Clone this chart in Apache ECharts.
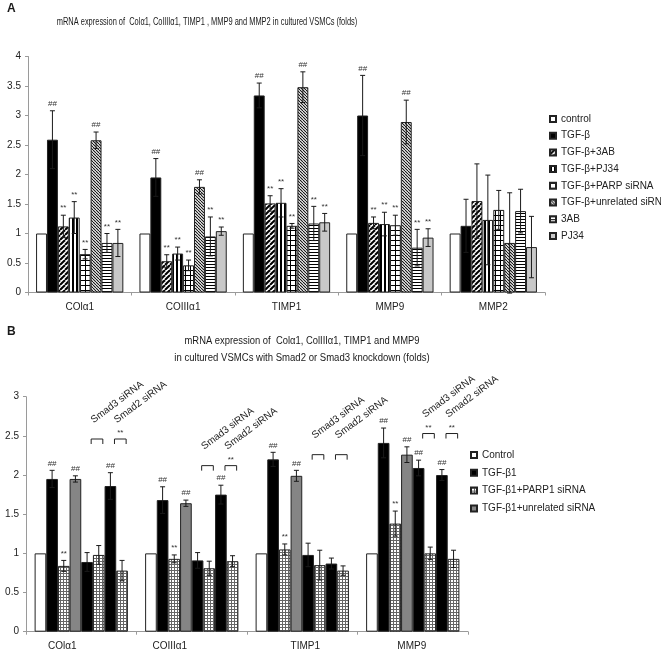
<!DOCTYPE html>
<html><head><meta charset="utf-8">
<script src="https://cdn.jsdelivr.net/npm/echarts@6/dist/echarts.min.js"></script>
<style>html,body{margin:0;padding:0;background:#fff}#c{width:661px;height:653px}</style>
</head><body><div id="c"></div>
<script>
// ---------- Panel A data ----------
const catsA = ['COlα1', 'COIIIα1', 'TIMP1', 'MMP9', 'MMP2'];
const namesA = ['control', 'TGF-β', 'TGF-β+3AB', 'TGF-β+PJ34', 'TGF-β+PARP siRNA', 'TGF-β+unrelated siRNA', '3AB', 'PJ34'];
const valsA = [
  [1, 1, 1, 1, 1],
  [2.59, 1.95, 3.34, 3.00, 1.13],
  [1.12, 0.53, 1.51, 1.18, 1.55],
  [1.27, 0.66, 1.52, 1.16, 1.23],
  [0.65, 0.46, 1.13, 1.14, 1.40],
  [2.58, 1.79, 3.48, 2.89, 0.84],
  [0.84, 0.95, 1.17, 0.76, 1.38],
  [0.84, 1.04, 1.19, 0.93, 0.77]
];
const errA = [
  [0, 0, 0, 0, 0],
  [0.49, 0.32, 0.21, 0.68, 0.45],
  [0.19, 0.11, 0.13, 0.10, 0.63],
  [0.27, 0.11, 0.24, 0.20, 0.76],
  [0.08, 0.09, 0.04, 0.17, 0.33],
  [0.14, 0.12, 0.26, 0.37, 0.85],
  [0.16, 0.33, 0.29, 0.31, 0.37],
  [0.23, 0.07, 0.15, 0.15, 0.52]
];
const marksA = [
  ['', '', '', '', ''],
  ['##', '##', '##', '##', ''],
  ['**', '**', '**', '**', ''],
  ['**', '**', '**', '**', ''],
  ['**', '**', '**', '**', ''],
  ['##', '##', '##', '##', ''],
  ['**', '**', '**', '**', ''],
  ['**', '**', '**', '**', '']
];
const titleA = 'mRNA expression of  Colα1, ColIIIα1, TIMP1 , MMP9 and MMP2 in cultured VSMCs (folds)';

// ---------- Panel B data ----------
const catsB = ['COlα1', 'COIIIα1', 'TIMP1', 'MMP9'];
const namesB = ['Control', 'TGF-β1', 'TGF-β1+PARP1 siRNA', 'TGF-β1+unrelated siRNA',
  'Smad3 siRNA+TGF-β1', 'Smad3 siRNA+TGF-β1+PARP1 siRNA', 'Smad2 siRNA+TGF-β1', 'Smad2 siRNA+TGF-β1+PARP1 siRNA'];
const legendB = ['Control', 'TGF-β1', 'TGF-β1+PARP1 siRNA', 'TGF-β1+unrelated siRNA'];
const valsB = [
  [1, 1, 1, 1],
  [1.95, 1.68, 2.20, 2.41],
  [0.84, 0.93, 1.05, 1.38],
  [1.95, 1.64, 1.99, 2.26],
  [0.89, 0.91, 0.98, 2.09],
  [0.98, 0.81, 0.85, 1.00],
  [1.86, 1.75, 0.87, 2.00],
  [0.78, 0.90, 0.78, 0.93]
];
const errB = [
  [0, 0, 0, 0],
  [0.11, 0.17, 0.09, 0.19],
  [0.07, 0.05, 0.07, 0.16],
  [0.04, 0.04, 0.07, 0.10],
  [0.12, 0.10, 0.15, 0.10],
  [0.12, 0.09, 0.19, 0.08],
  [0.17, 0.12, 0.07, 0.07],
  [0.13, 0.07, 0.06, 0.11]
];
const marksB = [
  ['', '', '', ''],
  ['##', '##', '##', '##'],
  ['**', '**', '**', '**'],
  ['##', '##', '##', '##'],
  ['', '', '', '##'],
  ['', '', '', ''],
  ['##', '##', '', '##'],
  ['', '', '', '']
];
const bracketB = [2.46, 2.12, 2.26, 2.53];
const bracketStarsB = [[false, true], [false, true], [false, false], [true, true]];
const bracketLabels = ['Smad3 siRNA', 'Smad2 siRNA'];
const titleB1 = 'mRNA expression of  Colα1, ColIIIα1, TIMP1 and MMP9';
const titleB2 = 'in cultured VSMCs with Smad2 or Smad3 knockdown (folds)';

// ---------- styling ----------
const FONT = 'Liberation Sans, Arial, sans-serif';
const GAP = 0.156;
const labelShiftB = [38, 44, -6, 2]; // right padding (px) to nudge panel-B category labels like the reference

function pat(w, h, draw) {
  const c = document.createElement('canvas');
  c.width = w; c.height = h;
  const g = c.getContext('2d');
  g.fillStyle = '#fff'; g.fillRect(0, 0, w, h);
  draw(g, w, h);
  return { image: c, repeat: 'repeat' };
}
const diagFwd = pat(5, 5, (g, w, h) => {
  g.strokeStyle = '#000'; g.lineWidth = 2;
  for (const o of [-w, 0, w]) { g.beginPath(); g.moveTo(o, h); g.lineTo(o + w, 0); g.stroke(); }
});
const vStripe = pat(4, 1, (g) => { g.fillStyle = '#000'; g.fillRect(0, 0, 2, 1); });
const gridPat = pat(5, 5, (g) => { g.fillStyle = '#000'; g.fillRect(0, 0, 5, 1); g.fillRect(0, 0, 1, 5); });
const diagBack = pat(3, 3, (g, w, h) => {
  g.strokeStyle = '#111'; g.lineWidth = 1.1;
  for (const o of [-w, 0, w]) { g.beginPath(); g.moveTo(o, 0); g.lineTo(o + w, h); g.stroke(); }
});
const hStripe = pat(1, 3, (g) => { g.fillStyle = '#000'; g.fillRect(0, 0, 1, 1); });
const checker = pat(3, 3, (g) => { g.fillStyle = '#666'; g.fillRect(0, 0, 3, 1); g.fillRect(0, 0, 1, 3); });

const colorsA = ['#ffffff', '#000000', diagFwd, vStripe, gridPat, diagBack, hStripe, '#c8c8c8'];
const colorsB = ['#ffffff', '#000000', checker, '#858585', '#000000', checker, '#000000', checker];

function errRender(vals, errs, marks, n) {
  return function (params, api) {
    const cat = api.value(0), v = api.value(1), s = api.value(2);
    const e = errs[s][cat];
    const band = api.size([1, 0])[0];
    const gw = band * (1 - GAP);
    const bw = gw / n;
    const cx = api.coord([cat, v])[0] - gw / 2 + (s + 0.5) * bw;
    const top = api.coord([cat, v + e])[1];
    const bot = api.coord([cat, v - e])[1];
    const ch = [];
    const ls = { stroke: '#1a1a1a', lineWidth: 1 };
    if (e > 0) {
      ch.push({ type: 'line', shape: { x1: cx, y1: top, x2: cx, y2: bot }, style: ls });
      ch.push({ type: 'line', shape: { x1: cx - 2.5, y1: top, x2: cx + 2.5, y2: top }, style: ls });
      ch.push({ type: 'line', shape: { x1: cx - 2.5, y1: bot, x2: cx + 2.5, y2: bot }, style: ls });
    }
    const m = marks[s][cat];
    if (m) {
      ch.push({ type: 'text', x: cx, y: top - 3, style: { text: m, textAlign: 'center', textVerticalAlign: 'bottom', fontSize: 8, fontFamily: FONT, fill: '#333' } });
    }
    return { type: 'group', children: ch };
  };
}

function bracketRender(params, api) {
  const cat = api.value(0), y = api.value(1);
  const band = api.size([1, 0])[0];
  const gw = band * (1 - GAP);
  const bw = gw / 8;
  const c0 = api.coord([cat, y]);
  const ch = [];
  [5, 7].forEach((idx, k) => {
    const cx = c0[0] - gw / 2 + (idx + 0.5) * bw - 0.15 * bw;
    const x0 = cx - bw / 2, x1 = cx + bw / 2;
    const yt = c0[1];
    ch.push({ type: 'polyline', shape: { points: [[x0, yt + 5], [x0, yt], [x1, yt], [x1, yt + 5]] }, style: { stroke: '#222', lineWidth: 1, fill: null } });
    if (bracketStarsB[cat][k]) {
      ch.push({ type: 'text', x: cx, y: yt - 2, style: { text: '**', textAlign: 'center', textVerticalAlign: 'bottom', fontSize: 8, fontFamily: FONT, fill: '#333' } });
    }
    ch.push({ type: 'text', x: x0 + 4, y: yt - 14, rotation: 37 * Math.PI / 180, style: { text: bracketLabels[k], textAlign: 'left', textVerticalAlign: 'bottom', fontSize: 10, fontFamily: FONT, fill: '#222' } });
  });
  return { type: 'group', children: ch };
}

const series = [];
namesA.forEach((nm, s) => {
  series.push({
    name: nm, type: 'bar', xAxisIndex: 0, yAxisIndex: 0, data: valsA[s],
    barGap: '0%', barCategoryGap: (GAP * 100) + '%',
    itemStyle: { color: colorsA[s], borderColor: '#222', borderWidth: 1 }
  });
});
namesB.forEach((nm, s) => {
  series.push({
    name: nm, type: 'bar', xAxisIndex: 1, yAxisIndex: 1, data: valsB[s],
    barGap: '0%', barCategoryGap: (GAP * 100) + '%',
    itemStyle: { color: colorsB[s], borderColor: '#222', borderWidth: 1 }
  });
});
const errDataA = [], errDataB = [];
valsA.forEach((row, s) => row.forEach((v, c) => errDataA.push([c, v, s])));
valsB.forEach((row, s) => row.forEach((v, c) => errDataB.push([c, v, s])));
series.push({ type: 'custom', xAxisIndex: 0, yAxisIndex: 0, z: 5, encode: { x: 0, y: 1 }, data: errDataA, renderItem: errRender(valsA, errA, marksA, 8) });
series.push({ type: 'custom', xAxisIndex: 1, yAxisIndex: 1, z: 5, encode: { x: 0, y: 1 }, data: errDataB, renderItem: errRender(valsB, errB, marksB, 8) });
series.push({ type: 'custom', xAxisIndex: 1, yAxisIndex: 1, z: 5, encode: { x: 0, y: 1 }, data: bracketB.map((y, c) => [c, y]), renderItem: bracketRender });

const axisLine = { show: true, lineStyle: { color: '#9a9a9a', width: 1 } };
const tick = { show: true, length: 3, lineStyle: { color: '#9a9a9a' } };
const yLabel = { fontSize: 10, color: '#222', fontFamily: FONT, margin: 7 };
const xLabelA = { fontSize: 10, color: '#222', fontFamily: FONT, margin: 10 };
const richB = {};
labelShiftB.forEach((p, i) => { richB['c' + i] = { fontSize: 10, color: '#222', fontFamily: FONT, padding: p >= 0 ? [0, p, 0, 0] : [0, 0, 0, -p] }; });
const xLabelB = { margin: 10, formatter: (v, i) => '{c' + i + '|' + v + '}', rich: richB };

const txt = (t, x, y, size, weight, sx, align) => ({
  type: 'text', x: x, y: y, scaleX: sx, scaleY: 1,
  style: { text: t, textAlign: align, textVerticalAlign: 'middle', fontSize: size, fontWeight: weight, fontFamily: FONT, fill: '#1a1a1a' }
});

const option = {
  animation: false,
  backgroundColor: '#fff',
  textStyle: { fontFamily: FONT },
  graphic: [
    txt('A', 7, 9, 12, 'bold', 1, 'left'),
    txt(titleA, 207, 22, 10, 'normal', 0.745, 'center'),
    txt('B', 7, 332, 12, 'bold', 1, 'left'),
    txt(titleB1, 302, 341.5, 10, 'normal', 0.94, 'center'),
    txt(titleB2, 302, 358.5, 10, 'normal', 0.955, 'center')
  ],
  legend: [
    { data: namesA, orient: 'vertical', left: 544, top: 108, itemWidth: 6, itemHeight: 6, itemGap: 4.7, icon: 'rect',
      textStyle: { fontSize: 10, lineHeight: 12, color: '#222', fontFamily: FONT } },
    { data: legendB, orient: 'vertical', left: 465, top: 444, itemWidth: 6, itemHeight: 6, itemGap: 5.8, icon: 'rect',
      textStyle: { fontSize: 10, lineHeight: 12, color: '#222', fontFamily: FONT } }
  ],
  grid: [
    { left: 28, top: 56.5, width: 517, height: 236, outerBoundsMode: 'none' },
    { left: 26, top: 396.7, width: 442, height: 235, outerBoundsMode: 'none' }
  ],
  xAxis: [
    { type: 'category', gridIndex: 0, data: catsA, axisLine: axisLine, axisTick: tick, axisLabel: xLabelA },
    { type: 'category', gridIndex: 1, data: catsB, axisLine: axisLine, axisTick: tick, axisLabel: xLabelB }
  ],
  yAxis: [
    { type: 'value', gridIndex: 0, min: 0, max: 4, interval: 0.5, axisLine: axisLine, axisTick: tick, splitLine: { show: false }, axisLabel: yLabel },
    { type: 'value', gridIndex: 1, min: 0, max: 3, interval: 0.5, axisLine: axisLine, axisTick: tick, splitLine: { show: false }, axisLabel: yLabel }
  ],
  series: series
};
const chart = echarts.init(document.getElementById('c'), null, { renderer: 'canvas' });
chart.setOption(option);
</script></body></html>
